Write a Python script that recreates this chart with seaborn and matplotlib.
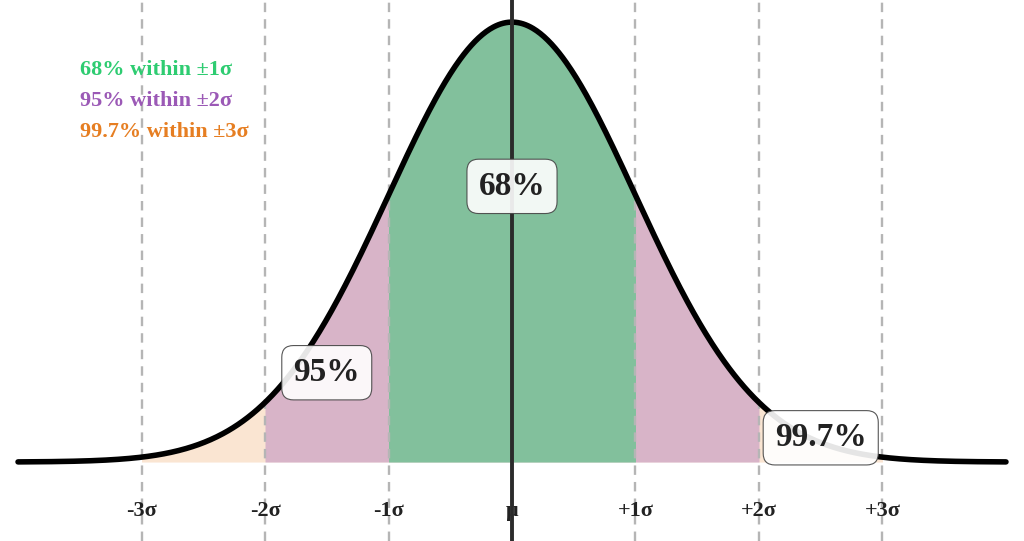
import numpy as np
import pandas as pd
import seaborn as sns
import matplotlib.pyplot as plt

MU = 0.0
SIGMA = 1.0
SIGMA_MARKS = [-3, -2, -1, 1, 2, 3]
TICK_POS = [-3, -2, -1, 0, 1, 2, 3]
TICK_LABELS = ['-3σ', '-2σ', '-1σ', 'μ', '+1σ', '+2σ', '+3σ']
BAND_WIDTHS = [3, 2, 1]
BAND_COLORS = ['#e67e22', '#9b59b6', '#2ecc71']
BAND_ALPHAS = [0.2, 0.35, 0.5]
RULE_TEXT = ['68% within ±1σ', '95% within ±2σ', '99.7% within ±3σ']
RULE_COLORS = ['#2ecc71', '#9b59b6', '#e67e22']
BOX_LABELS = ['68%', '95%', '99.7%']
BOX_X = [0.0, -1.5, 2.5]
BOX_Y = [0.250, 0.081, 0.022]


def normal_pdf(x):
    return np.exp(-0.5 * ((x - MU) / SIGMA) ** 2) / (SIGMA * np.sqrt(2 * np.pi))


def main():
    sns.set_theme(style='white')
    plt.rcParams['font.family'] = ['Liberation Serif', 'DejaVu Serif']
    plt.rcParams['font.weight'] = 'bold'

    x = np.linspace(-4, 4, 801)
    curve = pd.DataFrame({'x': x, 'density': normal_pdf(x)})

    fig = plt.figure(figsize=(10.24, 5.41), dpi=100)
    ax = fig.add_axes([0, 0, 1, 1])

    for w, c, a in zip(BAND_WIDTHS, BAND_COLORS, BAND_ALPHAS):
        m = (curve['x'] >= -w) & (curve['x'] <= w)
        ax.fill_between(curve['x'][m], 0, curve['density'][m], color=c,
                        alpha=a, linewidth=0, zorder=1)

    for s in SIGMA_MARKS:
        ax.axvline(s, color='#b5b5b5', linestyle='--', linewidth=1.7,
                   dashes=(4, 3), zorder=2)

    for p, lab in zip(TICK_POS, TICK_LABELS):
        ax.text(p, -0.0445, lab, ha='center', va='center', fontsize=16,
                fontweight='bold', color='#222222', zorder=3)

    sns.lineplot(data=curve, x='x', y='density', color='black',
                 linewidth=4, ax=ax, zorder=4)
    ax.axvline(MU, color='#2b2b2b', linewidth=2.8, zorder=5)

    for lab, bx, by in zip(BOX_LABELS, BOX_X, BOX_Y):
        ax.text(bx, by, lab, ha='center', va='center', fontsize=24,
                fontweight='bold', color='#222222', zorder=6,
                bbox=dict(boxstyle='round,pad=0.35', facecolor='white',
                          edgecolor='#444444', linewidth=0.8, alpha=0.9))

    for i, (t, c) in enumerate(zip(RULE_TEXT, RULE_COLORS)):
        ax.text(0.078, 0.871 - i * 0.0575, t, transform=ax.transAxes,
                ha='left', va='center', fontsize=16, fontweight='bold',
                color=c, zorder=6)

    ax.set_xlim(-4.146, 4.146)
    ax.set_ylim(-0.0716, 0.419)
    ax.set_axis_off()
    fig.savefig('out.png', dpi=100)


if __name__ == '__main__':
    main()
